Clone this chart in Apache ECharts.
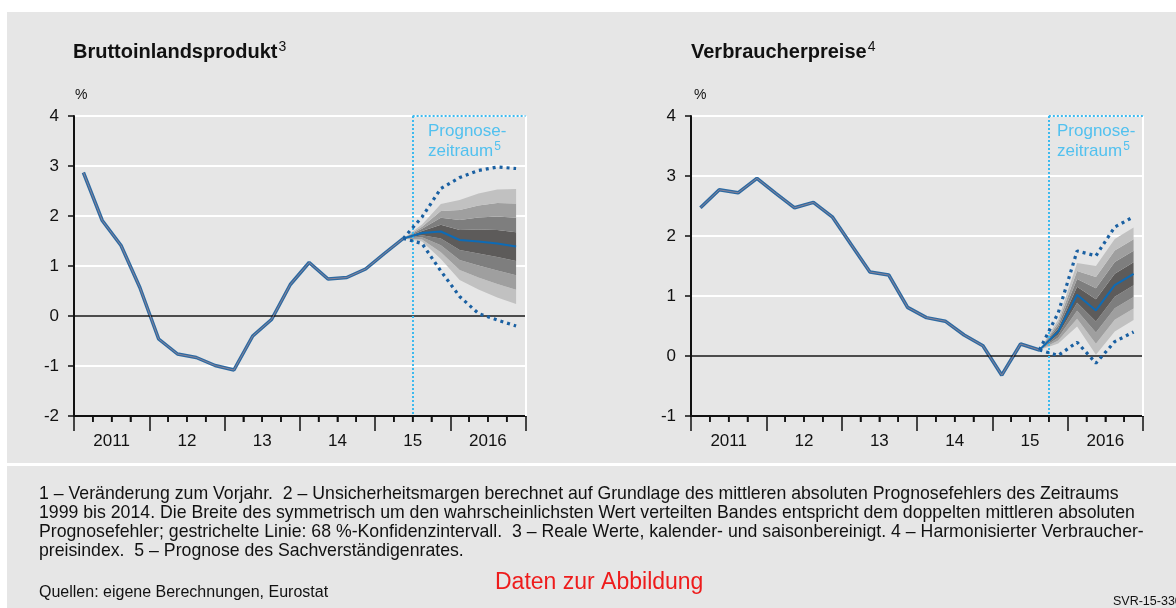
<!DOCTYPE html>
<html>
<head>
<meta charset="utf-8">
<script src="https://cdn.jsdelivr.net/npm/echarts@6/dist/echarts.min.js"></script>
<style>
  html, body { margin: 0; padding: 0; background: #fff; }
  .panel { position: absolute; left: 7px; right: 0; background: #e6e6e6; }
  #top { top: 12px; height: 451px; }
  #bottom { top: 466px; height: 142px; }
  #chart { position: absolute; left: 0; top: 0; width: 1176px; height: 608px; }
</style>
</head>
<body>
<div class="panel" id="top"></div>
<div class="panel" id="bottom"></div>
<div id="chart"></div>
<script>
// Quartale 2011 bis 2016
const quarters = [
  '2011 Q1', '2011 Q2', '2011 Q3', '2011 Q4',
  '2012 Q1', '2012 Q2', '2012 Q3', '2012 Q4',
  '2013 Q1', '2013 Q2', '2013 Q3', '2013 Q4',
  '2014 Q1', '2014 Q2', '2014 Q3', '2014 Q4',
  '2015 Q1', '2015 Q2', '2015 Q3', '2015 Q4',
  '2016 Q1', '2016 Q2', '2016 Q3', '2016 Q4'
];
const yearLabels = ['2011', '12', '13', '14', '15', '2016'];
const gdpTicks = [-2, 4];
const cpiTicks = [-1, 4];

// Bruttoinlandsprodukt, Veränderung zum Vorjahr in %
const gdpActual = [2.87, 1.91, 1.41, 0.57, -0.46, -0.76, -0.83, -0.99, -1.08, -0.40, -0.07, 0.63,
  1.07, 0.74, 0.77, 0.94, 1.25, 1.55, null, null, null, null, null, null];
const gdpForecast = [null, null, null, null, null, null, null, null, null, null, null, null,
  null, null, null, null, null, 1.55, 1.66, 1.69, 1.52, 1.49, 1.45, 1.39];
const gdpBandHalf = [null, null, null, null, null, null, null, null, null, null, null, null,
  null, null, null, null, null, 0, 0.17, 0.55, 0.80, 0.96, 1.08, 1.15];
const gdpUpper = [null, null, null, null, null, null, null, null, null, null, null, null,
  null, null, null, null, null, 1.55, 1.98, 2.55, 2.77, 2.91, 2.98, 2.95];
const gdpLower = [null, null, null, null, null, null, null, null, null, null, null, null,
  null, null, null, null, null, 1.55, 1.45, 0.90, 0.39, 0.05, -0.08, -0.20];

// Verbraucherpreise (HVPI), Veränderung zum Vorjahr in %
const cpiActual = [2.47, 2.77, 2.72, 2.96, 2.71, 2.47, 2.56, 2.32, 1.86, 1.40, 1.35, 0.81,
  0.64, 0.58, 0.35, 0.17, -0.32, 0.20, 0.10, null, null, null, null, null];
const cpiForecast = [null, null, null, null, null, null, null, null, null, null, null, null,
  null, null, null, null, null, null, 0.10, 0.41, 1.02, 0.76, 1.18, 1.37];
const cpiBandHalf = [null, null, null, null, null, null, null, null, null, null, null, null,
  null, null, null, null, null, null, 0, 0.20, 0.53, 0.74, 0.77, 0.77];
const cpiUpper = [null, null, null, null, null, null, null, null, null, null, null, null,
  null, null, null, null, null, null, 0.10, 0.72, 1.75, 1.67, 2.15, 2.32];
const cpiLower = [null, null, null, null, null, null, null, null, null, null, null, null,
  null, null, null, null, null, null, 0.10, 0.01, 0.23, -0.12, 0.24, 0.40];

// Beginn des Prognosezeitraums (Quartalsgrenze)
const gdpForecastStart = 18;
const cpiForecastStart = 19;

// Bänder: je ein Viertel der Unsicherheitsmarge, von unten nach oben
const bandShares = [0.25, 0.25, 0.25, 0.25, 0.25, 0.25, 0.25, 0.25];
const bandColors = ['#c1c1c1', '#9f9f9f', '#7e7e7e', '#5d5b5a', '#5d5b5a', '#7e7e7e', '#9f9f9f', '#c1c1c1'];

const FONT = '"Liberation Sans", Arial, sans-serif';
const BLUE_LIGHT = '#3dbaef';

const chart = echarts.init(document.getElementById('chart'), null, { renderer: 'canvas' });

function xAxes(gridIndex, gridWidth) {
  const n = quarters.length;
  return [
    // Kategorienachse für die Daten (unsichtbar)
    { gridIndex, type: 'category', data: quarters, boundaryGap: true, show: false },
    {
      // sichtbare Zeitachse: Jahresteilung und Jahreslabels
      gridIndex, type: 'value', min: 0, max: n, interval: 4, position: 'bottom',
      axisLine: { show: true, onZero: false, lineStyle: { color: '#111', width: 2 } },
      axisTick: { show: true, length: 15, lineStyle: { color: '#111', width: 1.5 } },
      minorTick: { show: true, splitNumber: 4, length: 6, lineStyle: { color: '#111', width: 1.5 } },
      axisLabel: {
        show: true, margin: 17, align: 'left', showMaxLabel: true, showMinLabel: true,
        formatter: v => (v < n ? '{y|' + yearLabels[Math.round(v / 4)] + '}' : ''),
        rich: { y: { width: gridWidth * 4 / n, align: 'center', fontSize: 17, color: '#111', fontFamily: FONT } }
      },
      splitLine: { show: false }, minorSplitLine: { show: false }
    }
  ];
}

function yAxis(gridIndex, ticks) {
  return {
    gridIndex, type: 'value', min: ticks[0], max: ticks[1], interval: 1,
    axisLine: { show: true, onZero: false, lineStyle: { color: '#111', width: 2 } },
    axisTick: { show: true, length: 6, lineStyle: { color: '#111', width: 1.5 } },
    axisLabel: { margin: 15, fontSize: 17, color: '#111', fontFamily: FONT },
    splitLine: { show: true, lineStyle: { color: '#ffffff', width: 2 } }
  };
}

function panelSeries(p, actual, forecast, half, upper, lower, fcStart, ticks) {
  const xi = p * 2;
  const stack = 'fan' + p;
  const n = quarters.length;
  const list = [];
  // untere Kante der Bänder
  list.push({
    type: 'line', xAxisIndex: xi, yAxisIndex: p, stack, stackStrategy: 'all', silent: true,
    data: forecast.map((c, i) => (c == null ? null : c - half[i])),
    symbol: 'none', lineStyle: { opacity: 0, width: 0 }, z: 2
  });
  bandShares.forEach((share, k) => {
    list.push({
      type: 'line', xAxisIndex: xi, yAxisIndex: p, stack, stackStrategy: 'all', silent: true,
      data: half.map(h => (h == null ? null : h * share)),
      symbol: 'none', lineStyle: { width: 0, opacity: 0 },
      areaStyle: { color: bandColors[k], opacity: 1 }, z: 2
    });
  });
  // Tatsächliche Werte (Doppellinie)
  list.push({
    type: 'line', xAxisIndex: xi, yAxisIndex: p, data: actual, symbol: 'none', silent: true,
    lineStyle: { color: '#2d6aa2', width: 3.5 }, z: 4
  });
  list.push({
    type: 'line', xAxisIndex: xi, yAxisIndex: p, data: actual, symbol: 'none', silent: true,
    lineStyle: { color: '#8a8397', width: 1 }, z: 5
  });
  // Prognose
  list.push({
    type: 'line', xAxisIndex: xi, yAxisIndex: p, data: forecast, symbol: 'none', silent: true,
    lineStyle: { color: '#0e6bb5', width: 2 }, z: 5
  });
  [upper, lower].forEach(d => list.push({
    type: 'line', xAxisIndex: xi, yAxisIndex: p, data: d, symbol: 'none', silent: true,
    lineStyle: { color: '#1a60a2', width: 3.2, type: [3, 4], cap: 'butt' }, z: 6
  }));
  // Quartalsstriche unter der Zeitachse
  list.push({
    type: 'custom', xAxisIndex: xi + 1, yAxisIndex: p, silent: true, clip: false, z: 10,
    data: quarters.map((q, k) => [k, ticks[0]]).filter(d => d[0] % 4 !== 0),
    renderItem: (params, api) => {
      const pt = api.coord([api.value(0), api.value(1)]);
      return {
        type: 'line',
        shape: { x1: pt[0], y1: pt[1], x2: pt[0], y2: pt[1] + 6 },
        style: { stroke: '#111', lineWidth: 1.5 }
      };
    }
  });
  // Nulllinie, Prognoserahmen, rechter Rand
  list.push({
    type: 'line', xAxisIndex: xi + 1, yAxisIndex: p, data: [], silent: true, z: 7,
    markLine: {
      silent: true, symbol: ['none', 'none'], label: { show: false },
      data: [
        [{ coord: [0, 0], lineStyle: { color: '#111', width: 1.5, type: 'solid' } }, { coord: [n, 0] }],
        [{ coord: [n, ticks[0]], lineStyle: { color: '#ffffff', width: 2, type: 'solid' } }, { coord: [n, ticks[1]] }],
        [{ coord: [fcStart, ticks[1]], lineStyle: { color: BLUE_LIGHT, width: 2, type: [2, 2] } }, { coord: [fcStart, ticks[0]] }],
        [{ coord: [fcStart, ticks[1]], lineStyle: { color: BLUE_LIGHT, width: 2, type: [2, 2] } }, { coord: [n, ticks[1]] }]
      ]
    }
  });
  return list;
}

function txt(x, y, text, opts) {
  return {
    type: 'text', z: 20, silent: true,
    style: Object.assign({ x, y, text, fill: '#111', font: '15px ' + FONT, verticalAlign: 'middle', align: 'left' }, opts || {})
  };
}

const supRich = (size, weight, color) => ({
  t: { fontSize: size, fontWeight: weight, fontFamily: FONT, fill: color, lineHeight: size + 4, verticalAlign: 'middle' },
  s: { fontSize: Math.round(size * 0.7), fontWeight: 'normal', fontFamily: FONT, fill: color, lineHeight: size, verticalAlign: 'top', padding: [0, 0, 0, 1] }
});

const footLines = [
  '1 – Veränderung zum Vorjahr.  2 – Unsicherheitsmargen berechnet auf Grundlage des mittleren absoluten Prognosefehlers des Zeitraums',
  '1999 bis 2014. Die Breite des symmetrisch um den wahrscheinlichsten Wert verteilten Bandes entspricht dem doppelten mittleren absoluten',
  'Prognosefehler; gestrichelte Linie: 68 %-Konfidenzintervall.  3 – Reale Werte, kalender- und saisonbereinigt. 4 – Harmonisierter Verbraucher-',
  'preisindex.  5 – Prognose des Sachverständigenrates.'
];

const graphics = [
  txt(73, 52, '{t|Bruttoinlandsprodukt}{s|3}', { rich: supRich(20, 'bold', '#111') }),
  txt(691, 52, '{t|Verbraucherpreise}{s|4}', { rich: supRich(20, 'bold', '#111') }),
  txt(75, 95, '%', { font: '14px ' + FONT }),
  txt(694, 95, '%', { font: '14px ' + FONT }),
  txt(428, 131, 'Prognose-', { fill: '#52c1ef', font: '17px ' + FONT }),
  txt(428, 151, '{t|zeitraum}{s|5}', { rich: supRich(17, 'normal', '#52c1ef') }),
  txt(1057, 131, 'Prognose-', { fill: '#52c1ef', font: '17px ' + FONT }),
  txt(1057, 151, '{t|zeitraum}{s|5}', { rich: supRich(17, 'normal', '#52c1ef') }),
  txt(39, 593, 'Quellen: eigene Berechnungen, Eurostat', { font: '16px ' + FONT }),
  txt(495, 583, 'Daten zur Abbildung', { fill: '#ee1c1c', font: '23px ' + FONT }),
  txt(1113, 602, 'SVR-15-330', { font: '12.5px ' + FONT })
];
footLines.forEach((line, i) => graphics.push(txt(39, 494 + i * 19.2, line, { font: '17.7px ' + FONT })));

const gridL = { left: 74, top: 116, width: 451.5, height: 300 };
const gridR = { left: 691, top: 116, width: 452, height: 300 };

const option = {
  backgroundColor: 'transparent',
  animation: false,
  grid: [gridL, gridR],
  xAxis: [...xAxes(0, gridL.width), ...xAxes(1, gridR.width)],
  yAxis: [yAxis(0, gdpTicks), yAxis(1, cpiTicks)],
  series: [
    ...panelSeries(0, gdpActual, gdpForecast, gdpBandHalf, gdpUpper, gdpLower, gdpForecastStart, gdpTicks),
    ...panelSeries(1, cpiActual, cpiForecast, cpiBandHalf, cpiUpper, cpiLower, cpiForecastStart, cpiTicks)
  ],
  graphic: graphics
};

chart.setOption(option);
</script>
</body>
</html>
